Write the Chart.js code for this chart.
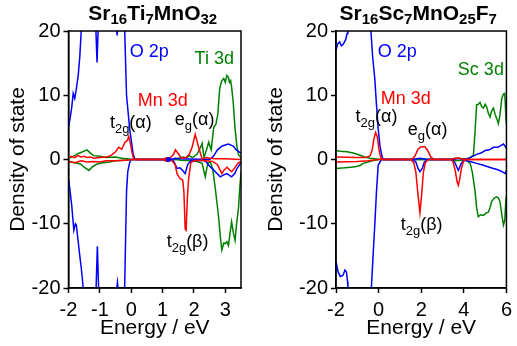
<!DOCTYPE html>
<html><head><meta charset="utf-8">
<script src="https://cdn.jsdelivr.net/npm/chart.js@4/dist/chart.umd.min.js"></script>
<style>
html,body{margin:0;padding:0;background:#fff;}
#wrap{position:relative;width:517px;height:346px;overflow:hidden;}
canvas{position:absolute;top:0;}
</style></head><body>
<div id="wrap">
<canvas id="cL" width="258" height="346" style="left:0;width:258px;height:346px"></canvas>
<canvas id="cR" width="259" height="346" style="left:258px;width:259px;height:346px"></canvas>
</div>
<script>
// ---------- data: [energy (eV), DOS] ----------
const leftXTicks = [-2, -1, 0, 1, 2, 3];
const rightXTicks = [-2, 0, 2, 4, 6];
const yTicks = [-20, -10, 0, 10, 20];

// Sr16Ti7MnO32
const tiO2pUp = [[-2,5],[-1.96,6.1],[-1.9,8],[-1.85,10.3],[-1.8,9.5],[-1.75,11],[-1.69,13.1],[-1.64,16],[-1.59,20.4],[-1.5,26],[-1.2,28],[-1.14,22],[-1.09,15.1],[-1.05,21],[-1.0,27],[-0.6,28],[-0.5,22],[-0.45,19.3],[-0.42,22],[-0.3,26],[-0.21,20.4],[-0.15,10],[-0.05,4.8],[0.06,0.9],[0.12,0],[1.3,0],[1.4,0.2],[1.5,0.1],[2.5,0],[2.62,0.5],[2.75,1.5],[2.9,2.1],[3.1,2.4],[3.25,2.1],[3.35,1.5],[3.5,1]];
const tiO2pDn = [[-2,-3],[-1.96,-4.5],[-1.9,-7],[-1.83,-11],[-1.78,-10],[-1.75,-10.2],[-1.69,-12.8],[-1.64,-15],[-1.59,-17],[-1.53,-20],[-1.45,-26],[-1.16,-26],[-1.12,-20],[-1.08,-13.5],[-1.04,-20],[-1.0,-26],[-0.5,-26],[-0.46,-20],[-0.44,-19.1],[-0.42,-20],[-0.3,-26],[-0.21,-20],[-0.17,-10],[-0.15,-5],[-0.11,-1.9],[-0.05,-0.5],[0,0],[1.3,0],[1.38,-0.5],[1.46,-1.4],[1.55,-1.3],[1.62,-1.6],[1.72,-2.2],[1.8,-0.8],[1.9,-0.2],[2.3,-0.1],[2.4,-0.4],[2.47,-0.9],[2.6,-1.5],[2.68,-1.9],[2.84,-2.7],[2.95,-2.4],[3.05,-2.2],[3.2,-2.7],[3.3,-2.2],[3.37,-1.4],[3.5,-0.5]];
const tiMn3dUp = [[-2,0.3],[-1.9,0.5],[-1.8,0.3],[-1.7,0.6],[-1.6,0.4],[-1.5,0.5],[-1.4,0.3],[-1.3,0.4],[-1.2,0.2],[-1.0,0.3],[-0.8,0.4],[-0.7,0.5],[-0.6,0.8],[-0.5,1.2],[-0.4,1.9],[-0.3,1.6],[-0.2,2.7],[-0.12,3.0],[-0.08,3.6],[-0.03,2.6],[0.03,1.0],[0.08,0.1],[0.15,0],[1.1,0],[1.15,0.1],[1.25,0.3],[1.35,0.8],[1.41,1.5],[1.5,0.9],[1.6,0.2],[1.75,0.3],[1.85,0.8],[1.94,1.9],[2.04,3.9],[2.1,2.8],[2.15,1.9],[2.26,0.1],[2.4,0.3],[2.5,0.2],[2.7,0.1],[3.0,0.1],[3.5,0]];
const tiMn3dDn = [[-2,-0.3],[-1.8,-0.5],[-1.6,-0.2],[-1.4,-0.4],[-1.2,-0.3],[-1.0,-0.4],[-0.8,-0.2],[-0.5,-0.2],[-0.2,-0.1],[0.1,0],[1.2,0],[1.3,-0.2],[1.4,-0.8],[1.46,-2.2],[1.56,-3.0],[1.64,-3.2],[1.68,-5],[1.72,-10.8],[1.75,-11],[1.79,-6],[1.83,-3],[1.9,-0.5],[2.0,-0.2],[2.2,-0.1],[2.6,-0.3],[2.75,-0.8],[2.89,-2.2],[2.95,-1.7],[3.05,-1.2],[3.2,-1.9],[3.3,-1.3],[3.4,-0.6],[3.5,-0.3]];
const tiTi3dUp = [[-2,0.2],[-1.88,0.4],[-1.7,0.9],[-1.55,1.2],[-1.41,1.5],[-1.3,1.0],[-1.2,0.6],[-1.0,0.5],[-0.8,0.3],[-0.5,0.4],[-0.3,0.2],[0,0.05],[0.2,0],[1.4,0],[1.5,0.2],[1.67,0.4],[1.75,0.2],[1.85,0.6],[1.95,0.3],[2.1,0.8],[2.2,1.8],[2.26,2.5],[2.32,0.3],[2.4,1.5],[2.47,2.7],[2.55,1.5],[2.63,5],[2.7,5.5],[2.76,7],[2.82,11],[2.88,12.2],[2.95,12.6],[3.0,12.0],[3.05,13.1],[3.1,12.8],[3.13,12],[3.17,12.3],[3.2,11.3],[3.25,9],[3.31,4.8],[3.37,2],[3.42,0.7],[3.5,0.3]];
const tiTi3dDn = [[-2,-0.3],[-1.8,-0.5],[-1.62,-0.7],[-1.5,-1.2],[-1.35,-1.7],[-1.25,-1.2],[-1.09,-0.7],[-0.9,-0.5],[-0.7,-0.4],[-0.5,-0.2],[-0.2,-0.1],[0.1,0],[1.4,0],[1.6,-0.1],[1.9,-0.2],[2.1,-0.3],[2.26,-0.6],[2.36,-2.7],[2.44,-0.6],[2.52,-0.4],[2.6,-1.5],[2.68,-4.5],[2.74,-7],[2.79,-9.2],[2.84,-12],[2.89,-14.1],[2.95,-13],[3.0,-13.1],[3.05,-12.8],[3.1,-13.4],[3.15,-11.5],[3.2,-9.7],[3.26,-11.5],[3.31,-12.6],[3.36,-10],[3.42,-7.6],[3.46,-4.5],[3.5,-2]];
const tiMnDot = [[1.13, 0]];
const tiODot = [[1.19, 0]];

// Sr16Sc7MnO25F7
const scO2pUp = [[-2,17],[-1.92,18],[-1.83,18.3],[-1.75,17.7],[-1.67,17.9],[-1.55,18.6],[-1.48,19.6],[-1.44,20.4],[-1.35,24],[-0.5,26],[-0.37,20.4],[-0.28,16],[-0.18,12.6],[-0.1,8.5],[-0.02,4.8],[0.06,2.2],[0.13,0.9],[0.2,0.1],[0.3,0],[1.6,0],[1.95,0.2],[2.3,0],[3.5,0],[3.75,0.2],[4.0,0],[4.2,0.1],[4.37,0.4],[4.6,0.8],[4.8,1.0],[5.0,1.4],[5.2,1.5],[5.39,1.9],[5.6,1.9],[5.75,2.2],[5.86,2.4],[5.95,2.0],[6,1.7]];
const scO2pDn = [[-2,-15.9],[-1.9,-17.5],[-1.8,-18.2],[-1.67,-18],[-1.58,-17.2],[-1.51,-17.5],[-1.46,-19],[-1.44,-20],[-1.35,-25],[-0.45,-25],[-0.34,-20],[-0.26,-15],[-0.18,-10.2],[-0.1,-5],[-0.02,-0.9],[0.13,0],[1.6,0],[1.75,-0.4],[1.85,-1.4],[1.94,-1.9],[2.05,-1.4],[2.15,-0.4],[2.3,0],[3.45,0],[3.6,-0.6],[3.74,-1.7],[3.88,-0.6],[4.0,-0.1],[4.3,-0.3],[4.6,-0.6],[4.92,-0.9],[5.2,-1.2],[5.39,-1.4],[5.6,-1.6],[5.8,-1.9],[5.94,-2.2],[6,-1.7]];
const scMn3dUp = [[-2,0.4],[-1.5,0.35],[-1.0,0.3],[-0.6,0.3],[-0.4,0.6],[-0.3,1.5],[-0.22,3.2],[-0.14,4.2],[-0.06,3.5],[0.02,1.5],[0.1,0.3],[0.2,0],[1.55,0],[1.7,0.5],[1.85,1.6],[2.0,2.0],[2.17,2.0],[2.3,1.4],[2.45,0.4],[2.6,0],[3.4,0],[3.6,0.2],[3.8,0.2],[4.0,0],[6,0]];
const scMn3dDn = [[-2,-0.4],[-1.0,-0.3],[-0.5,-0.2],[0,0],[1.5,0],[1.65,-0.5],[1.75,-2],[1.85,-5.5],[1.94,-8.3],[2.02,-5.5],[2.1,-2],[2.2,-0.4],[2.35,0],[3.4,0],[3.5,-0.4],[3.6,-1.8],[3.68,-3.4],[3.74,-4.0],[3.8,-3.2],[3.88,-1.5],[3.98,-0.3],[4.1,0],[6,0]];
const scSc3dUp = [[-2,1.4],[-1.8,1.3],[-1.48,1.2],[-1.2,1.0],[-0.9,0.7],[-0.65,0.4],[-0.4,0.2],[0,0.05],[0.2,0],[3.3,0],[3.6,0.2],[3.9,0.1],[4.1,0.1],[4.3,0.3],[4.45,0.7],[4.52,4],[4.6,8.5],[4.68,8.6],[4.76,8.9],[4.84,8.2],[4.92,8],[5.0,8.6],[5.07,8.2],[5.15,7.2],[5.23,6.6],[5.3,7.5],[5.39,8.0],[5.47,7.0],[5.54,6.4],[5.62,5.6],[5.7,7],[5.78,9.5],[5.86,10.2],[5.92,10.3],[5.97,7],[6,5.5]];
const scSc3dDn = [[-2,-1.4],[-1.6,-1.3],[-1.3,-1.2],[-1.04,-1.1],[-0.85,-0.9],[-0.73,-0.6],[-0.5,-0.4],[-0.3,-0.2],[0,0],[3.3,0],[3.6,-0.2],[3.9,-0.1],[4.1,-0.1],[4.3,-0.6],[4.4,-2],[4.53,-5],[4.6,-7.5],[4.68,-8.9],[4.8,-8.6],[4.92,-8.7],[5.05,-8.3],[5.15,-8.2],[5.23,-7.5],[5.3,-6.6],[5.42,-6.0],[5.54,-5.8],[5.62,-6.0],[5.7,-6.6],[5.78,-8.5],[5.86,-10.2],[5.92,-9.5],[5.97,-6.5],[6,-5.7]];

// ---------- styles ----------
const BLUE = '#0000ff', RED = '#ff0000', GREEN = '#008000';
const FONT = '"Liberation Sans", Arial, Helvetica, sans-serif';

function toXY(arr) { return arr.map(p => ({x: p[0], y: p[1]})); }
function ds(arr, color, order) {
  return { data: toXY(arr), borderColor: color, backgroundColor: color, borderWidth: 1.5,
           pointRadius: 0, tension: 0, fill: false, order: order };
}
function dot(arr, color, order) {
  return { data: toXY(arr), borderColor: color, backgroundColor: color, showLine: false,
           pointRadius: 2.5, pointBorderWidth: 0, order: order };
}

function drawRich(ctx, parts, x, y, align, color, size, subSize, subDrop, bold) {
  const f = s => (bold ? 'bold ' : '') + s + 'px ' + FONT;
  let total = 0;
  const w = parts.map(p => { ctx.font = f(p[1] ? subSize : size); const m = ctx.measureText(p[0]).width; total += m; return m; });
  let cx = align === 'center' ? x - total / 2 : x;
  ctx.save();
  ctx.fillStyle = color;
  ctx.textBaseline = 'alphabetic';
  ctx.textAlign = 'left';
  parts.forEach((p, i) => {
    ctx.font = f(p[1] ? subSize : size);
    ctx.fillText(p[0], cx, p[1] ? y + subDrop : y);
    cx += w[i];
  });
  ctx.restore();
}

const textPlugin = {
  id: 'panelText',
  afterDraw(chart, args, opts) {
    const ctx = chart.ctx, ca = chart.chartArea;
    const xs = chart.scales.x, ys = chart.scales.y;
    ctx.save();
    ctx.strokeStyle = '#000'; ctx.lineWidth = 1.5;
    ctx.strokeRect(ca.left, ca.top, ca.right - ca.left, ca.bottom - ca.top);
    ctx.restore();
    drawRich(ctx, opts.title, (ca.left + ca.right) / 2 + opts.titleShift, 20, 'center', '#000', 21, 15, 4, true);
    opts.notes.forEach(n => {
      drawRich(ctx, n.parts, xs.getPixelForValue(n.x), ys.getPixelForValue(n.y), 'left', n.color, 18, 13, 5, false);
    });
  }
};

function makeChart(id, cfg) {
  const tickFont = { family: FONT, size: 20 };
  const titleFont = { family: FONT, size: 21 };
  return new Chart(document.getElementById(id), {
    type: 'line',
    data: { datasets: cfg.datasets },
    options: {
      responsive: false, animation: false, devicePixelRatio: 1,
      layout: { padding: { top: 31, right: cfg.padRight, bottom: 0, left: 0 } },
      plugins: {
        legend: { display: false }, tooltip: { enabled: false }, title: { display: false },
        panelText: { title: cfg.title, titleShift: cfg.titleShift, notes: cfg.notes }
      },
      scales: {
        x: {
          type: 'linear', min: cfg.xMin, max: cfg.xMax,
          afterFit: s => { s.height = 58; },
          afterBuildTicks: s => { s.ticks = cfg.xTicks.map(v => ({ value: v })); },
          ticks: { font: tickFont, color: '#000', padding: 5, maxRotation: 0, autoSkip: false },
          grid: { display: true, drawOnChartArea: false, drawTicks: true, tickLength: 5, tickWidth: 1.5, tickColor: '#000' },
          border: { display: true, color: '#000', width: 1.5 },
          title: { display: true, text: 'Energy / eV', font: titleFont, color: '#000', padding: { top: 0, bottom: 5 } }
        },
        y: {
          type: 'linear', min: -20, max: 20,
          afterFit: s => { s.width = cfg.yWidth; },
          afterBuildTicks: s => { s.ticks = yTicks.map(v => ({ value: v })); },
          ticks: { font: tickFont, color: '#000', padding: 3 },
          grid: { display: true, drawOnChartArea: false, drawTicks: true, tickLength: 5, tickWidth: 1.5, tickColor: '#000' },
          border: { display: true, color: '#000', width: 1.5 },
          title: { display: true, text: 'Density of state', font: titleFont, color: '#000', padding: { top: 6, bottom: 0 } }
        }
      }
    },
    plugins: [textPlugin]
  });
}

const t2gA = [['t', 0], ['2g', 1], ['(\u03b1)', 0]];
const egA = [['e', 0], ['g', 1], ['(\u03b1)', 0]];
const t2gB = [['t', 0], ['2g', 1], ['(\u03b2)', 0]];

makeChart('cL', {
  xMin: -2, xMax: 3.5, xTicks: leftXTicks, yWidth: 68.5, padRight: 17, titleShift: -2,
  title: [['Sr', 0], ['16', 1], ['Ti', 0], ['7', 1], ['MnO', 0], ['32', 1]],
  datasets: [
    ds(tiTi3dUp, GREEN, 3), ds(tiTi3dDn, GREEN, 3),
    ds(tiO2pUp, BLUE, 2), ds(tiO2pDn, BLUE, 2),
    ds(tiMn3dUp, RED, 1), ds(tiMn3dDn, RED, 1),
    dot(tiODot, BLUE, 0), dot(tiMnDot, RED, 0)
  ],
  notes: [
    { parts: [['O 2p', 0]], x: -0.05, y: 15.9, color: BLUE },
    { parts: [['Ti 3d', 0]], x: 2.02, y: 14.9, color: GREEN },
    { parts: [['Mn 3d', 0]], x: 0.21, y: 8.25, color: RED },
    { parts: t2gA, x: -0.68, y: 4.98, color: '#000' },
    { parts: egA, x: 1.39, y: 5.3, color: '#000' },
    { parts: t2gB, x: 1.13, y: -13.65, color: '#000' }
  ]
});

makeChart('cR', {
  xMin: -2, xMax: 6, xTicks: rightXTicks, yWidth: 78, padRight: 10, titleShift: -3,
  title: [['Sr', 0], ['16', 1], ['Sc', 0], ['7', 1], ['MnO', 0], ['25', 1], ['F', 0], ['7', 1]],
  datasets: [
    ds(scSc3dUp, GREEN, 3), ds(scSc3dDn, GREEN, 3),
    ds(scO2pUp, BLUE, 2), ds(scO2pDn, BLUE, 2),
    ds(scMn3dUp, RED, 1), ds(scMn3dDn, RED, 1)
  ],
  notes: [
    { parts: [['O 2p', 0]], x: -0.04, y: 15.9, color: BLUE },
    { parts: [['Sc 3d', 0]], x: 3.72, y: 13.1, color: GREEN },
    { parts: [['Mn 3d', 0]], x: 0.1, y: 8.7, color: RED },
    { parts: t2gA, x: -1.08, y: 5.76, color: '#000' },
    { parts: egA, x: 1.37, y: 3.74, color: '#000' },
    { parts: t2gB, x: 1.04, y: -11.05, color: '#000' }
  ]
});
</script>
</body></html>
